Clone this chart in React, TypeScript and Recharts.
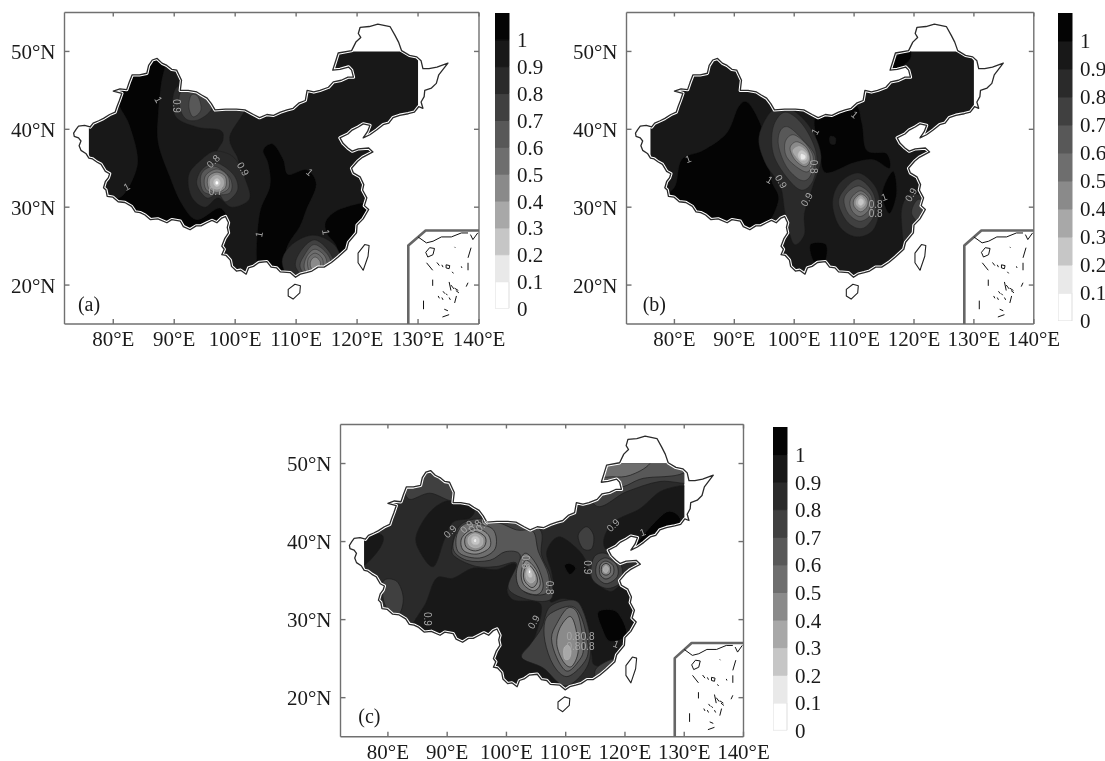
// App.tsx - three contour maps (a, b, c) with grey colour bars
import React from 'react';
import { BarChart, Bar, Curve, ScatterChart, Scatter, XAxis, YAxis } from 'recharts';

type Contour = { level: number; path: number[] };
type MapLabel = { lon: number; lat: number; text: string; angle: number };

const lonTicks = [80, 90, 100, 110, 120, 130, 140];
const latTicks = [20, 30, 40, 50];
const barLevels = [0, 0.1, 0.2, 0.3, 0.4, 0.5, 0.6, 0.7, 0.8, 0.9, 1];
const barGreys = ['#ffffff', '#e9e9e9', '#c6c6c6', '#a8a8a8', '#8a8a8a', '#6e6e6e', '#585858', '#404040', '#2a2a2a', '#181818', '#040404'];
const barBand = [0.1, 0.1, 0.1, 0.1, 0.1, 0.1, 0.1, 0.1, 0.1, 0.1, 0.1];

// lon, lat pairs
const china = [
  76.2, 40.3, 75.3, 40.5, 74.3, 40.4, 73.9, 40, 73.5, 39.5, 73.6, 39.1, 74.3, 38.9, 74.7, 38.5, 74.4, 37.9, 74.7, 37.3, 75.5, 36.9, 76, 36.3,
  76.6, 36.2, 77.3, 35.8, 78, 35.5, 78.7, 34.6, 79.4, 34.3, 79.2, 33.8, 78.7, 33.3, 78.4, 32.5, 78.8, 32.2, 79, 31.4, 79.9, 31.3, 80.8, 30.7,
  81.9, 30.6, 83, 30.1, 83.6, 29.4, 84.4, 29.3, 85.2, 29, 86.1, 28.4, 87.3, 28.5, 88.8, 28, 89.6, 28.4, 91, 28.2, 91.5, 27.5, 92.6, 27.1,
  93.6, 27.6, 94.4, 27.6, 95.4, 28, 96.2, 28.3, 97, 28, 97.8, 28.6, 98.4, 28.8, 98.9, 28, 98.7, 27.4, 98.9, 26.7, 98.3, 26, 97.8, 25, 98.2, 24.6,
  97.8, 23.9, 98.5, 23.8, 99.2, 23.2, 99.4, 22.4, 100.2, 21.8, 100.9, 21.9, 101.8, 21.4, 102.2, 22.2, 103, 22.4, 103.9, 22.9, 105.2, 23, 105.9, 22.3,
  106.8, 22.2, 107.4, 21.7, 109, 21.6, 109.9, 21, 110.7, 21.4, 111.7, 21.6, 112.6, 21.8, 113.6, 22.3, 114.6, 22.3, 115.8, 22.9, 116.9, 23.6, 118.3, 24.6,
  118.6, 25.5, 119.9, 26.7, 120, 27.7, 121, 28.5, 121.9, 29.7, 121.2, 30.2, 121.6, 31.2, 120.9, 32.2, 121.1, 32.9, 120.5, 33.9, 119.4, 34.4, 119.1, 35,
  120.1, 35.9, 120.9, 36.4, 122.6, 37.1, 121.9, 37.6, 120.2, 37.5, 119.2, 37.2, 118.5, 37.6, 117.7, 38.2, 117.2, 38.9, 118.5, 39.4, 119.2, 39.9, 120.2, 40.3, 121, 40.7,
  122.1, 40.5, 121.7, 39.7, 121, 38.9, 122.1, 39.3, 123.2, 39.9, 124.3, 40.6, 125.2, 40.8, 125.9, 41.5, 127, 41.8, 128.4, 42, 129.4, 42.2, 130.1, 42.9, 130.8, 42.7,
  130.5, 43.5, 131, 44.2, 131.1, 45, 132.2, 45.3, 133, 45.9, 133.4, 47, 134.9, 48.5, 133.1, 48, 131.8, 47.8, 130.8, 47.8, 130.5, 48.8, 129.8, 49.3, 128.6, 49.5, 127.3, 50.1,
  126.8, 51.2, 126.2, 52.1, 125.4, 53.2, 123.4, 53.5, 122, 53.2, 120.5, 53.1, 120.2, 52.3, 120.6, 51.8, 119.8, 51.2, 119.1, 50.1, 116.9, 49.8, 116.5, 48.8, 116, 47.6,
  117.2, 47.7, 118.6, 48, 119.1, 47.6, 119.4, 46.7, 118.5, 46.7, 117.4, 46.3, 116.1, 46.1, 115.3, 45.4, 113.9, 45, 112.9, 44.8, 111.8, 45, 111.5, 43.7, 110.5, 43.4, 109.5, 42.7,
  108.5, 42.5, 107.4, 42.2, 106.3, 41.8, 105.2, 41.9, 104, 41.5, 103, 41.9, 101.6, 42.5, 100.2, 42.6, 98.4, 42.6, 96.7, 42.5, 96.1, 43.3, 95.4, 44, 94.5, 44.4, 93.7, 44.8,
  92.3, 45, 91, 45, 91.2, 46.3, 90.4, 47.6, 89.6, 47.7, 88.8, 48.2, 88, 48.5, 87.2, 49.1, 86.4, 48.9, 85.8, 48.2, 85.5, 47.2, 84.3, 47, 83.1, 47, 82.6, 46, 82.2, 45.1,
  81.1, 45.2, 80, 44.9, 81.4, 44.6, 81, 43.7, 80.6, 42.9, 80.3, 42.2, 79.4, 41.9, 78.4, 41.4, 77.6, 41.1, 76.7, 40.8,
];
const taiwan = [121.25, 25.2, 121.97, 25.07, 121.8, 23.7, 121, 21.9, 120.16, 22.86, 120.16, 24.1];
const hainan = [109.8, 20.1, 110.7, 19.9, 110.6, 19, 109.5, 18.2, 108.7, 18.6, 108.7, 19.45];
const insetFrame = [128.4, 15, 128.4, 25.07, 131.25, 27, 140, 27];
const insetMarks = [
  [130, 26.18, 131.37, 25.42, 132.46, 25.63, 133.83, 26.18, 135.46, 26.18, 137.1, 26.69, 138.2, 26.69],
  [138.6, 26.48, 139, 25.84, 139.8, 26.7],
  [131.26, 24.2, 131.9, 24.8, 132.7, 24.7, 132.45, 23.9, 131.6, 23.6, 131.26, 24.2],
  [131.4, 22.86, 132.4, 21.9],
  [133.1, 22.9, 133.5, 22.5],
  [133.9, 22.6, 134.1, 22.3],
  [134.6, 22.6, 135.2, 22.5, 135.1, 22.1, 134.6, 22.2, 134.6, 22.6],
  [135.6, 21.7, 135.8, 21.5],
  [137.1, 22.4, 137.2, 22.2],
  [138.2, 22.86, 138.2, 21.9],
  [138.7, 24.8, 138.2, 23.5],
  [136, 24.9, 136.1, 24.8],
  [132.4, 20.7, 132.4, 19.9],
  [135.1, 20.4, 135.4, 19.3],
  [135.4, 20, 135.9, 19.5],
  [136, 19.6, 136.6, 19.3],
  [136.2, 19.3, 136.7, 19],
  [134.1, 19.2, 134.4, 18.9],
  [133.3, 18.6, 133.5, 18.3],
  [133.9, 18.4, 134.1, 18.1],
  [135.1, 18.4, 135.3, 18.1],
  [134.6, 18.9, 134.8, 18.7],
  [136.3, 18.6, 136, 17.7],
  [138.2, 20.3, 137.9, 19.8],
  [130.9, 18, 130.9, 16.9],
  [134.3, 16.9, 134.9, 16.7],
  [134, 15.9, 135.1, 16.2],
];

const contoursA: Contour[] = [
  { level: 1, path: [86.6, 49.8, 88.5, 48.8, 87.9, 45.9, 87.4, 42, 87.4, 38.2, 89.3, 33.9, 91.2, 30.5, 93.7, 28.4, 97.5, 29.9, 98.6, 27.5, 93.1, 25.5, 84.9, 26.4, 77.9, 30.5, 81.4, 31.4, 83.6, 34.4, 83.9, 36.9, 82.5, 40.8, 80.8, 43.7, 81.7, 47.9, 86, 48.6] },
  { level: 1, path: [104.6, 37.3, 106.2, 38.1, 107.9, 36.1, 108.7, 34.2, 111.7, 34.8, 113.3, 32.9, 111.7, 29.7, 110.6, 27.5, 108.4, 24.6, 108.1, 20.2, 104.6, 21.4, 103.5, 23.3, 104, 29.2, 105.7, 32.7, 105.4, 35.6] },
  { level: 1, path: [115, 28.4, 117.7, 29.9, 123.1, 30.4, 123.6, 26.1, 117.7, 21.9, 116.6, 25, 115, 26.7] },
  { level: 0.8, path: [90.4, 45.4, 90.1, 41.8, 93.7, 40.3, 97.5, 39.9, 98, 38.6, 96.9, 36.9, 96.9, 34, 100.5, 34, 100.5, 36.1, 99.1, 39, 101.6, 43, 96.4, 43.6, 95, 45.5] },
  { level: 0.7, path: [91.2, 44.9, 94.2, 45.2, 96.2, 42.9, 94.2, 41.3, 92, 41.3, 90.9, 42.9] },
  { level: 0.6, path: [92.8, 44.4, 93.9, 44.2, 94.4, 42.5, 93.1, 41.6, 92.4, 42.9] },
  { level: 0.8, path: [96.9, 37.2, 99.9, 36.3, 101.8, 33.3, 102.3, 31, 99.4, 30, 97.2, 31.2, 95, 30, 92.8, 31.4, 92.4, 34.2, 94.6, 36.2] },
  { level: 0.7, path: [96.9, 35.7, 99.7, 34.2, 100.4, 32.2, 98.5, 30.7, 97.2, 31.7, 95.3, 31.2, 93.7, 33, 94.6, 34.9] },
  { level: 0.6, path: [96.9, 35.2, 99.2, 33.7, 99.2, 31.9, 96.9, 31.6, 94.8, 32, 94.3, 33.7, 95, 34.8] },
  { level: 0.5, path: [97, 34.9, 98.8, 34, 98.9, 32.4, 97, 31.7, 95.2, 32.3, 95.1, 34] },
  { level: 0.4, path: [97, 34.5, 98.4, 33.9, 98.4, 32.5, 97, 31.9, 95.6, 32.5, 95.6, 33.9] },
  { level: 0.3, path: [97, 34.1, 98, 33.6, 98, 32.7, 97, 32.3, 96, 32.7, 96, 33.6] },
  { level: 0.2, path: [97, 33.7, 97.5, 33.4, 97.5, 32.9, 97, 32.6, 96.5, 32.9, 96.5, 33.4] },
  { level: 0, path: [97, 33.4, 97.25, 33.25, 97.25, 33, 97, 32.85, 96.75, 33, 96.75, 33.25] },
  { level: 0.8, path: [112.8, 26.4, 116.2, 25.2, 117.3, 22.9, 115.2, 20.3, 109.8, 20.3, 107.7, 22.9, 109.3, 25.2] },
  { level: 0.7, path: [113, 25.8, 115.4, 24.3, 116.1, 22.2, 113, 20.2, 110, 22.2, 110.7, 24.3] },
  { level: 0.6, path: [113, 25.2, 115.2, 23.9, 115.6, 22.2, 113, 20.3, 110.7, 22.2, 111.4, 23.9] },
  { level: 0.5, path: [113.1, 24.6, 114.8, 23.6, 114.9, 22, 113.1, 20.7, 111.4, 22, 111.7, 23.6] },
  { level: 0.5, path: [113.1, 24.1, 114.3, 23.4, 114.3, 22.1, 113.1, 21, 112, 22.1, 112, 23.4] },
  { level: 0.4, path: [113.1, 23.6, 113.9, 23.1, 113.9, 22.3, 113.1, 21.6, 112.4, 22.3, 112.4, 23.1] },
];
const labelsA: MapLabel[] = [
  { lon: 90.3, lat: 43, text: '0.9', angle: 90 },
  { lon: 96.4, lat: 35.9, text: '0.8', angle: -45 },
  { lon: 101.3, lat: 34.9, text: '0.9', angle: 60 },
  { lon: 96.8, lat: 32, text: '0.7', angle: 0 },
  { lon: 87.4, lat: 43.8, text: '1', angle: 60 },
  { lon: 82.2, lat: 32.6, text: '1', angle: -30 },
  { lon: 103.9, lat: 26.5, text: '1', angle: -80 },
  { lon: 112.2, lat: 34.5, text: '1', angle: 40 },
  { lon: 114.9, lat: 26.8, text: '1', angle: 80 },
];

const contoursB: Contour[] = [
  { level: 1, path: [92.3, 43.4, 94.3, 40.8, 95.4, 37.8, 96.2, 33.5, 97.4, 31, 95.4, 27.5, 92.6, 25.3, 87.6, 26.3, 83.2, 27.4, 77.7, 30.5, 80.1, 32.7, 81.2, 36.1, 84.8, 37.3, 88.7, 39.5, 90.7, 42.9] },
  { level: 1, path: [104, 41.9, 109.9, 43.2, 111.3, 40.8, 112.1, 37.3, 115.4, 36.9, 115.9, 35, 113.2, 36.1, 109.9, 35.7, 105.4, 34.4, 104.3, 36.5, 103.5, 39.5] },
  { level: 0.9, path: [106, 39.1, 106.9, 38.9, 106.8, 38.1, 106, 38.2] },
  { level: 1, path: [116, 48.4, 119, 50.4, 119.4, 49.1, 117.3, 47.8] },
  { level: 1, path: [102.7, 25.2, 105.3, 25.2, 105.1, 23, 103.3, 23] },
  { level: 1, path: [116.5, 34.6, 117.1, 31.8, 115.9, 29.2, 114.7, 31.8] },
  { level: 0.8, path: [99.3, 42.6, 102.6, 40.3, 104.5, 36.5, 103.1, 32.7, 101.7, 29.2, 101.7, 26.5, 99.9, 25.3, 98.5, 29.2, 97.7, 32.7, 95.2, 35.6, 94.1, 39, 96.3, 42.4] },
  { level: 0.7, path: [98.5, 42.2, 101.5, 40.5, 103.7, 36.9, 103.2, 33.5, 101.2, 32.2, 98.7, 33.9, 96.5, 36.9, 96.5, 40.3] },
  { level: 0.6, path: [99, 40.3, 101.5, 38.6, 103.5, 36.5, 102.6, 33.9, 101, 33.5, 98.7, 35.2, 97.4, 37.8, 97.6, 39.7] },
  { level: 0.5, path: [99.9, 39.3, 102.1, 38, 103.2, 36.3, 102.4, 34.6, 100.7, 35, 98.7, 36.5, 98.5, 38.4] },
  { level: 0.4, path: [100.4, 38.4, 102.1, 37.6, 102.7, 36.1, 101.8, 35.2, 100.1, 36.1, 99.3, 37.6] },
  { level: 0.3, path: [100.9, 37.8, 102.1, 37.1, 102.4, 36.1, 101.5, 35.6, 100.3, 36.5, 99.8, 37.3] },
  { level: 0.2, path: [101.2, 37.3, 102.1, 36.8, 102, 36.1, 101.1, 36, 100.6, 36.7] },
  { level: 0.1, path: [101.2, 36.9, 101.9, 36.6, 101.8, 36.2, 101.2, 36.1, 101, 36.5] },
  { level: 0.8, path: [110.7, 34.4, 113.5, 32.7, 114.3, 30.1, 113.2, 27.1, 110.4, 26.2, 107.6, 27.5, 106.4, 30.5, 107.6, 33.1] },
  { level: 0.7, path: [110.8, 33.6, 113.2, 31.8, 113.5, 29.2, 111.5, 27.3, 109, 28, 107.4, 30.5, 108.5, 32.4] },
  { level: 0.6, path: [111, 32.7, 112.9, 31.4, 112.9, 29.2, 111, 28.2, 109, 29.2, 108.3, 31, 109.3, 32.2] },
  { level: 0.5, path: [111, 32.1, 112.5, 31.2, 112.5, 29.7, 111, 28.8, 109.6, 29.6, 109.4, 31] },
  { level: 0.4, path: [111.1, 31.7, 112.2, 31.1, 112.2, 30.1, 111.1, 29.4, 110, 30.1, 110, 31] },
  { level: 0.3, path: [111.1, 31.4, 111.8, 30.9, 111.8, 30.3, 111.1, 29.9, 110.4, 30.3, 110.4, 30.9] },
  { level: 0.2, path: [111.1, 31.1, 111.6, 30.8, 111.5, 30.4, 111.1, 30.2, 110.7, 30.4, 110.7, 30.8] },
  { level: 0.8, path: [119.9, 31.8, 122.4, 30.4, 121.5, 26.9, 118.8, 24.4, 117.9, 28.4, 118.3, 30.7] },
  { level: 0.7, path: [120.7, 31, 122.6, 29.9, 121.5, 27.8, 119.6, 29.2] },
];
const labelsB: MapLabel[] = [
  { lon: 82.3, lat: 36.2, text: '1', angle: -20 },
  { lon: 95.9, lat: 33.5, text: '1', angle: 30 },
  { lon: 103.5, lat: 39.7, text: '1', angle: -60 },
  { lon: 110.1, lat: 41.9, text: '1', angle: 40 },
  { lon: 115, lat: 31.3, text: '1', angle: -20 },
  { lon: 97.8, lat: 33.3, text: '0.9', angle: 60 },
  { lon: 102.1, lat: 31, text: '0.9', angle: -60 },
  { lon: 119.5, lat: 31.6, text: '0.9', angle: -60 },
  { lon: 103.2, lat: 35.2, text: '0.8', angle: 90 },
  { lon: 113.6, lat: 30.4, text: '0.8', angle: 0 },
  { lon: 113.6, lat: 29.2, text: '0.8', angle: 0 },
];

const contoursC: Contour[] = [
  { level: 0.9, path: [88.2, 35.3, 91, 35.3, 94.4, 36.6, 98.3, 36.4, 101.4, 37.2, 101.7, 35.3, 100.1, 34, 101.2, 32.5, 105.1, 32.3, 105.9, 31, 104.5, 27.2, 102.6, 25.3, 106.8, 23.6, 109.6, 20.3, 102.3, 19, 95.7, 23.4, 97.8, 27.6, 92.2, 25.4, 83.8, 27.5, 86.5, 32.3] },
  { level: 0.9, path: [106.8, 38.7, 108.8, 40.6, 111.9, 39.1, 113.5, 37.4, 114.4, 35.3, 117.5, 33.6, 120.3, 34.5, 123.5, 29.8, 120.2, 24.1, 115.2, 24.1, 114.4, 25.5, 113.8, 28.9, 112.4, 31.9, 109.6, 32.7, 107.4, 32.3, 107.9, 34.4, 107.6, 36.2] },
  { level: 0.9, path: [84.8, 40.8, 87.1, 43.8, 90.5, 45.3, 94.4, 44.3, 93.8, 43, 91, 42.5, 89.5, 40.2, 87.7, 36.8, 85.4, 38.7] },
  { level: 0.9, path: [116.4, 40, 118.1, 42.5, 122.5, 44.2, 126.5, 46.6, 131.5, 46.6, 132, 40.5, 125, 37.8, 118, 38.5] },
  { level: 1, path: [122, 39.8, 127, 43.8, 129.3, 42.5, 124.2, 40.8, 122.3, 39.1] },
  { level: 0.9, path: [73.5, 41, 78.6, 41, 78.9, 39.5, 76.1, 37, 73.5, 36.5] },
  { level: 1, path: [109.8, 36.9, 110.7, 37.2, 111.7, 36.6, 110.7, 35.8] },
  { level: 1, path: [115.5, 31, 118.6, 31, 120.3, 28.1, 117.5, 27.2, 116.1, 28.9] },
  { level: 0.7, path: [114.9, 44.7, 120.3, 46.4, 125.9, 47.7, 132, 47.7, 132, 52, 113, 52] },
  { level: 0.6, path: [119.4, 47, 123.1, 48.1, 129.9, 48.8, 132, 52, 115, 52, 115, 47.2] },
  { level: 0.5, path: [118, 48.3, 120.9, 48.5, 124.2, 50, 125, 52.5, 115, 52.5, 115.6, 48.7] },
  { level: 0.7, path: [112.1, 40.8, 113.5, 41.9, 114.7, 40.8, 114.4, 39.1, 112.9, 39.1] },
  { level: 0.7, path: [83.2, 47, 87.1, 49.6, 90.9, 48.4, 91, 45.3, 87.1, 46.2, 83.7, 45.4] },
  { level: 0.7, path: [79.2, 34.9, 81.5, 34.9, 82.6, 32.7, 81.7, 30.6, 79.5, 31.9] },
  { level: 0.7, path: [90.8, 39.1, 92.2, 42.1, 96.1, 43, 101.2, 42.5, 105.7, 41.5, 105.9, 38.3, 107.4, 35.7, 107.6, 32.7, 104, 32.5, 100.3, 34, 101.7, 37.2, 98.3, 36.8, 95, 36.8, 91.6, 37.9] },
  { level: 0.6, path: [92.4, 41.7, 97.8, 42.5, 101.7, 41.5, 104.5, 41.3, 105.4, 38.7, 107.1, 35.7, 106.8, 33.4, 103.4, 33.4, 101.7, 35.3, 102.3, 38.3, 99.8, 38.7, 97.2, 37.6, 93.3, 37.6, 91, 39.1] },
  { level: 0.5, path: [94.7, 42.3, 97.8, 41.5, 98.1, 39.1, 95.5, 37.9, 92.1, 38.5, 91.5, 40.4, 92.6, 42.1] },
  { level: 0.4, path: [94.7, 41.7, 96.9, 40.9, 97.2, 39.3, 95, 38.4, 92.7, 38.9, 92.5, 40.5] },
  { level: 0.4, path: [94.7, 41.3, 96.4, 40.6, 96.3, 39.4, 94.8, 38.8, 93.2, 39.3, 93.1, 40.6] },
  { level: 0.3, path: [94.7, 41, 95.9, 40.5, 95.9, 39.6, 94.8, 39.2, 93.7, 39.6, 93.6, 40.5] },
  { level: 0.2, path: [94.7, 40.7, 95.4, 40.4, 95.4, 39.8, 94.8, 39.6, 94.2, 39.8, 94.1, 40.4] },
  { level: 0.1, path: [94.7, 40.4, 95, 40.2, 94.9, 39.9, 94.6, 39.9, 94.4, 40.1] },
  { level: 0.5, path: [103.1, 38.5, 105.1, 37, 106.2, 34.4, 105.1, 33.2, 102.3, 34, 101.7, 36.2] },
  { level: 0.4, path: [103.3, 37.6, 105, 36.4, 105.7, 34.6, 104.6, 33.7, 102.9, 34.5, 102.5, 36] },
  { level: 0.4, path: [103.6, 37.1, 104.9, 36, 105.2, 34.8, 104.3, 34.1, 103.1, 34.9, 102.9, 36] },
  { level: 0.3, path: [103.8, 36.8, 104.6, 36, 104.8, 35.1, 104.1, 34.7, 103.4, 35.2, 103.3, 36] },
  { level: 0.2, path: [103.9, 36.6, 104.3, 36, 104.3, 35.5, 103.9, 35.4, 103.6, 35.7, 103.5, 36.2] },
  { level: 0, path: [103.9, 36.4, 104.1, 36.1, 103.9, 35.9, 103.7, 36.1] },
  { level: 0.7, path: [107.4, 31.7, 111.3, 32.5, 113, 31, 114.2, 27.2, 113.5, 23.8, 109.9, 21.5, 106.2, 23.8, 102.6, 25.1, 104, 26.8, 105.9, 28.9] },
  { level: 0.6, path: [107.9, 31, 111, 31.7, 112.7, 30.2, 113.8, 26.4, 113, 24.4, 110.2, 22.7, 107.9, 24.2, 106.5, 27.2, 106.5, 29.8] },
  { level: 0.5, path: [108.5, 29.5, 110.4, 31.5, 112.1, 30.6, 113, 26.4, 112.1, 24.6, 110.2, 23.4, 108.5, 25.1, 107.6, 27.6] },
  { level: 0.4, path: [109, 28.9, 110.7, 30.4, 111.7, 28.9, 112.1, 25.9, 111, 24, 109.6, 24.6, 108.5, 26.8] },
  { level: 0.3, path: [109.7, 26.3, 110.4, 26.7, 110.9, 26, 110.6, 25, 109.8, 25] },
  { level: 0.7, path: [116.6, 38.5, 119.2, 37.2, 119.4, 34.9, 116.9, 34, 114.4, 35.3, 114.7, 37.9] },
  { level: 0.6, path: [116.8, 37.9, 118.6, 37, 118.7, 35.5, 116.8, 34.6, 115.2, 35.6, 115.3, 37.2] },
  { level: 0.5, path: [116.8, 37.5, 118, 36.9, 118, 35.8, 116.8, 35.2, 115.8, 35.8, 115.8, 37] },
  { level: 0.4, path: [116.8, 37.2, 117.5, 36.8, 117.5, 36, 116.8, 35.7, 116.1, 36, 116.1, 36.8] },
  { level: 0.3, path: [116.8, 36.9, 117.2, 36.6, 117.1, 36.2, 116.8, 36, 116.4, 36.2, 116.4, 36.6] },
  { level: 0.7, path: [115.2, 23.8, 118, 24.9, 117.5, 23, 115.2, 22.5] },
];
const labelsC: MapLabel[] = [
  { lon: 90.5, lat: 41.3, text: '0.9', angle: -45 },
  { lon: 93.3, lat: 41.9, text: '0.9', angle: -45 },
  { lon: 94.7, lat: 42, text: '0.8', angle: -45 },
  { lon: 95.9, lat: 42.1, text: '0.6', angle: -45 },
  { lon: 118, lat: 42.1, text: '0.9', angle: -45 },
  { lon: 113.6, lat: 36.7, text: '0.9', angle: 90 },
  { lon: 86.6, lat: 30.1, text: '0.9', angle: 90 },
  { lon: 104.6, lat: 29.7, text: '0.9', angle: -60 },
  { lon: 103.2, lat: 37.4, text: '0.8', angle: 90 },
  { lon: 107.2, lat: 34.1, text: '0.8', angle: 90 },
  { lon: 111.3, lat: 27.8, text: '0.8', angle: 0 },
  { lon: 113.7, lat: 27.8, text: '0.8', angle: 0 },
  { lon: 111.3, lat: 26.6, text: '0.8', angle: 0 },
  { lon: 113.7, lat: 26.6, text: '0.8', angle: 0 },
  { lon: 123, lat: 41.2, text: '1', angle: -20 },
  { lon: 118.5, lat: 26.9, text: '1', angle: 20 },
];

const SERIF = '"Liberation Serif", "Times New Roman", serif';
const TICK_FONT = { fill: '#1a1a1a', fontFamily: SERIF, fontSize: 21 };

const toPoints = (flat: number[]) => {
  const out: { lon: number; lat: number }[] = [];
  for (let i = 0; i < flat.length; i += 2) out.push({ lon: flat[i], lat: flat[i + 1] });
  return out;
};

// the shaded field stops at the data grid, the coastline goes on past it
const toGridPoints = (flat: number[]) =>
  toPoints(flat).map((p) => ({ lon: Math.min(130, Math.max(76, p.lon)), lat: Math.min(50, p.lat) }));

const noSymbol = () => <g />;

// closed catmull-rom through the pixel points the chart hands over
const smoothPath = (pts: { x: number; y: number }[]) => {
  const n = pts.length;
  let d = `M${pts[0].x},${pts[0].y}`;
  for (let i = 0; i < n; i++) {
    const p0 = pts[(i - 1 + n) % n];
    const p1 = pts[i];
    const p2 = pts[(i + 1) % n];
    const p3 = pts[(i + 2) % n];
    d += `C${p1.x + (p2.x - p0.x) / 6},${p1.y + (p2.y - p0.y) / 6} ${p2.x - (p3.x - p1.x) / 6},${p2.y - (p3.y - p1.y) / 6} ${p2.x},${p2.y}`;
  }
  return d + 'Z';
};

type ShapeProps = {
  data: { lon: number; lat: number }[];
  curve: any;
  fill: string;
  stroke: string;
  strokeWidth: number;
  clipId?: string;
  defineClip?: string;
};

// one polygon: the points come out of the chart's own scales through the Scatter line
const drawShape = ({ data, curve, fill, stroke, strokeWidth, clipId, defineClip }: ShapeProps, key: string) => (
  <Scatter
    key={key}
    data={data}
    xAxisId="b"
    yAxisId="l"
    dataKey="lat"
    isAnimationActive={false}
    shape={noSymbol}
    line={(p: any) => (
      <g clipPath={clipId ? `url(#${clipId})` : undefined}>
        {defineClip && (
          <clipPath id={defineClip}>
            <Curve points={p.points} type="linearClosed" />
          </clipPath>
        )}
        {curve === 'smooth' ? (
          <path d={smoothPath(p.points)} fill={fill} stroke={stroke} strokeWidth={strokeWidth} />
        ) : (
          <Curve points={p.points} type={curve} fill={fill} stroke={stroke} strokeWidth={strokeWidth} strokeLinejoin="round" />
        )}
      </g>
    )}
  />
);

const contourLine = (level: number) => (level >= 0.4 ? '#1c1c1c' : '#b8b8b8');
const bandGrey = (level: number) => barGreys[Math.round(level * 10)];

const ContourMap = ({ id, left, top, plotWidth, plotHeight, base, contours, labels, tag, tagLon, lineWidth }: any) => {
  const clipId = `field-${id}`;
  return (
    <div style={{ position: 'absolute', left, top }}>
      <ScatterChart
        width={64.5 + plotWidth + 26}
        height={12.5 + plotHeight + 36}
        margin={{ top: 11.5, right: 25, bottom: 6, left: 4.5 }}
      >
        <XAxis xAxisId="t" orientation="top" type="number" dataKey="lon" domain={[72, 140]} ticks={lonTicks} height={1} allowDataOverflow interval={0}
          stroke="#707070" strokeWidth={1.4} tickSize={-4} tickFormatter={() => ''} />
        <XAxis xAxisId="b" orientation="bottom" type="number" dataKey="lon" domain={[72, 140]} ticks={lonTicks} height={30} allowDataOverflow interval={0}
          stroke="#707070" strokeWidth={1.4} tickSize={-5} tickMargin={12} tickFormatter={(v: number) => `${v}°E`} tick={TICK_FONT} />
        <YAxis yAxisId="l" orientation="left" type="number" dataKey="lat" domain={[15, 55]} ticks={latTicks} width={60} allowDataOverflow interval={0}
          stroke="#707070" strokeWidth={1.4} tickSize={-5} tickMargin={14} tickFormatter={(v: number) => `${v}°N`} tick={TICK_FONT} />
        <YAxis yAxisId="r" orientation="right" type="number" dataKey="lat" domain={[15, 55]} ticks={latTicks} width={1} allowDataOverflow interval={0}
          stroke="#707070" strokeWidth={1.4} tickSize={-5} tickFormatter={() => ''} />

        {drawShape({ data: toGridPoints(china), curve: 'linearClosed', fill: bandGrey(base), stroke: 'none', strokeWidth: 0, defineClip: clipId }, 'base')}
        {contours.map((c: Contour, i: number) =>
          drawShape({ data: toPoints(c.path), curve: 'smooth', fill: bandGrey(c.level), stroke: contourLine(c.level), strokeWidth: lineWidth, clipId }, `c${i}`),
        )}
        {drawShape({ data: toPoints(china), curve: 'linearClosed', fill: 'none', stroke: '#ffffff', strokeWidth: 3.4 }, 'halo')}
        {drawShape({ data: toPoints(china), curve: 'linearClosed', fill: 'none', stroke: '#2a2a2a', strokeWidth: 1.3 }, 'coast')}
        {drawShape({ data: toPoints(taiwan), curve: 'linearClosed', fill: '#ffffff', stroke: '#222222', strokeWidth: 1.1 }, 'taiwan')}
        {drawShape({ data: toPoints(hainan), curve: 'linearClosed', fill: '#ffffff', stroke: '#222222', strokeWidth: 1.1 }, 'hainan')}
        {drawShape({ data: toPoints(insetFrame), curve: 'linear', fill: 'none', stroke: '#666666', strokeWidth: 2.6 }, 'frame')}
        {insetMarks.map((m, i) =>
          drawShape({ data: toPoints(m), curve: 'linear', fill: 'none', stroke: '#111111', strokeWidth: 1 }, `m${i}`),
        )}

        <Scatter
          data={labels}
          xAxisId="b"
          yAxisId="l"
          dataKey="lat"
          isAnimationActive={false}
          shape={(p: any) => (
            <text
              x={p.cx}
              y={p.cy}
              fontSize={10}
              fontFamily='"Liberation Sans", Arial, sans-serif'
              fill="#a8a8a8"
              textAnchor="middle"
              dominantBaseline="central"
              transform={`rotate(${p.payload.angle} ${p.cx} ${p.cy})`}
            >
              {p.payload.text}
            </text>
          )}
        />
        <Scatter
          data={[{ lon: tagLon, lat: 17.6 }]}
          xAxisId="b"
          yAxisId="l"
          dataKey="lat"
          isAnimationActive={false}
          shape={(p: any) => (
            <text x={p.cx} y={p.cy} fontSize={20} fontFamily={SERIF} fill="#1a1a1a" dominantBaseline="central">
              {tag}
            </text>
          )}
        />
      </ScatterChart>
    </div>
  );
};

const barRow = [Object.fromEntries(barBand.map((v, i) => [`b${i}`, v]))];

const ColourBar = ({ left, top, height }: any) => (
  <div style={{ position: 'absolute', left, top }}>
    <BarChart width={50} height={height + 14} data={barRow} margin={{ top: 0, right: 0, bottom: 14, left: 0 }} barCategoryGap={0}>
      <XAxis hide />
      <YAxis
        orientation="right"
        type="number"
        domain={[0, 1.1]}
        ticks={barLevels}
        width={36}
        interval={0}
        axisLine={false}
        tickLine={false}
        tickSize={0}
        tickMargin={8}
        allowDataOverflow
        tickFormatter={(v: number) => String(v)}
        tick={TICK_FONT}
      />
      {barBand.map((_, i) => (
        <Bar
          key={i}
          dataKey={`b${i}`}
          stackId="bar"
          fill={barGreys[i]}
          stroke={i === 0 ? '#dddddd' : barGreys[i]}
          isAnimationActive={false}
        />
      ))}
    </BarChart>
  </div>
);

export default function App() {
  return (
    <div style={{ position: 'absolute', left: 0, top: 0, width: 1105, height: 761, overflow: 'hidden', background: '#fff', filter: 'blur(0.4px)' }}>
      <ContourMap id="a" left={0} top={0} plotWidth={414.5} plotHeight={311.5} base={0.9} contours={contoursA} labels={labelsA} tag="(a)" tagLon={74.2} lineWidth={0.4} />
      <ContourMap id="b" left={562.2} top={0} plotWidth={407.3} plotHeight={311.5} base={0.9} contours={contoursB} labels={labelsB} tag="(b)" tagLon={74.7} lineWidth={0.4} />
      <ContourMap id="c" left={275.5} top={412} plotWidth={403} plotHeight={312.2} base={0.8} contours={contoursC} labels={labelsC} tag="(c)" tagLon={75} lineWidth={0.7} />
      <ColourBar left={495} top={12.5} height={295.5} />
      <ColourBar left={1058} top={13} height={308} />
      <ColourBar left={772.7} top={427.3} height={303.4} />
    </div>
  );
}
